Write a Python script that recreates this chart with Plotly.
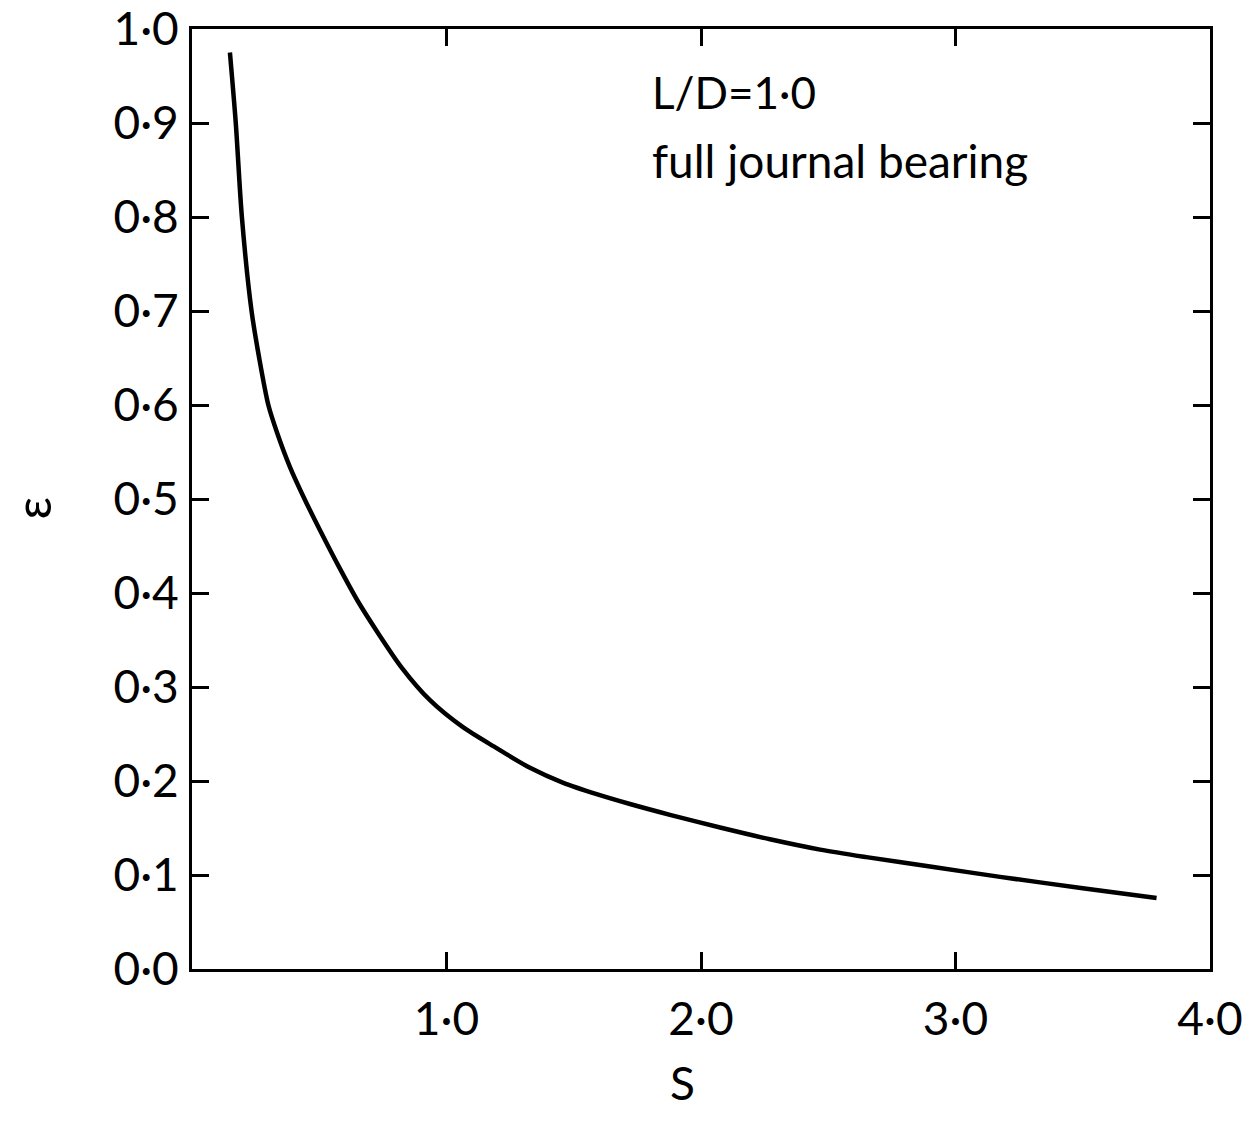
import plotly.graph_objects as go

# Sommerfeld number S against eccentricity ratio epsilon, L/D = 1.0
sommerfeld = [0.149, 0.172, 0.196, 0.234, 0.264, 0.300, 0.335, 0.385, 0.444, 0.510,
              0.577, 0.650, 0.732, 0.823, 0.935, 1.066, 1.197, 1.328, 1.459, 1.590,
              1.721, 1.878, 2.075, 2.271, 2.468, 2.650, 2.913, 3.175, 3.500, 3.790]
eccentricity = [0.975, 0.900, 0.800, 0.700, 0.650, 0.600, 0.570, 0.534, 0.499, 0.463,
                0.428, 0.392, 0.357, 0.321, 0.286, 0.257, 0.235, 0.214, 0.198, 0.186,
                0.1755, 0.164, 0.1505, 0.138, 0.127, 0.119, 0.1085, 0.098, 0.086, 0.0755]

x_tickvals = [1, 2, 3, 4]
x_ticktext = ["1·0", "2·0", "3·0", "4·0"]
y_tickvals = [i / 10 for i in range(11)]
y_ticktext = ["0·0", "0·1", "0·2", "0·3", "0·4", "0·5", "0·6", "0·7", "0·8", "0·9", "1·0"]

FONT = "Lato"

fig = go.Figure()
fig.add_trace(go.Scatter(
    x=sommerfeld, y=eccentricity, mode="lines",
    line=dict(color="black", width=4.5, shape="spline", smoothing=0.8),
    showlegend=False, hoverinfo="skip",
))

axis_common = dict(
    showgrid=False, zeroline=False, showline=True, linecolor="black", linewidth=3,
    ticks="inside", ticklen=17, tickwidth=3, tickcolor="black", mirror="ticks",
    tickfont=dict(family=FONT, size=46, color="black"), automargin=False,
)

fig.update_xaxes(range=[0, 4], tickvals=x_tickvals, ticktext=x_ticktext,
                 ticklabelstandoff=8, **axis_common)
fig.update_yaxes(range=[0, 1], tickvals=y_tickvals, ticktext=y_ticktext,
                 ticklabelstandoff=1, **axis_common)

fig.add_annotation(text="L/D=1·0", xref="x", yref="y", x=1.8, y=0.933,
                   xanchor="left", yanchor="middle", showarrow=False,
                   font=dict(family=FONT, size=44, color="black"))
fig.add_annotation(text="full journal bearing", xref="x", yref="y", x=1.8, y=0.860,
                   xanchor="left", yanchor="middle", showarrow=False,
                   font=dict(family=FONT, size=46, color="black"))

# axis titles
fig.add_annotation(text="ε", xref="paper", yref="paper", x=0, y=0.49,
                   xanchor="center", yanchor="middle", xshift=-160, textangle=-90,
                   showarrow=False, font=dict(family=FONT, size=50, color="black"))
fig.add_annotation(text="S", xref="paper", yref="paper", x=0.482, y=0,
                   xanchor="center", yanchor="middle", yshift=-113,
                   showarrow=False, font=dict(family=FONT, size=46, color="black"))

fig.update_layout(
    width=1260, height=1131,
    margin=dict(l=192, r=50, t=29, b=162),
    paper_bgcolor="white", plot_bgcolor="white",
)

fig.write_html("out.html")
